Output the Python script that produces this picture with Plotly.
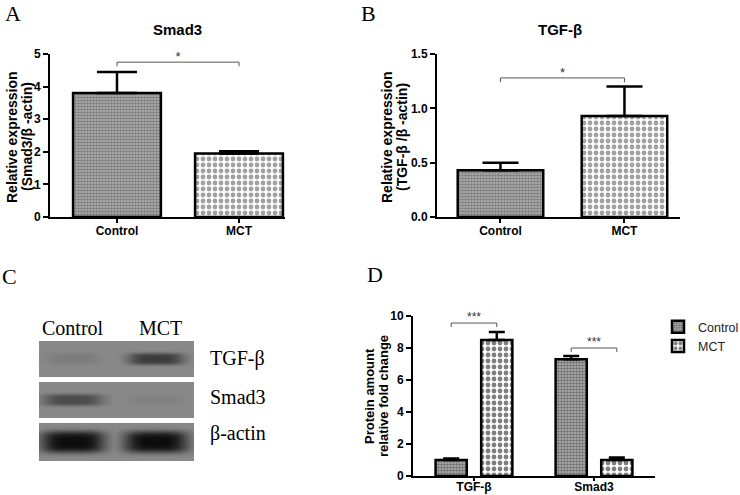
import numpy as np
import plotly.graph_objects as go

W, H = 740, 495

# ---------------- data ----------------
groups = ["Control", "MCT"]

smad3_mean = [3.80, 1.95]
smad3_err = [0.65, 0.07]

tgfb_mean = [0.43, 0.93]
tgfb_err = [0.07, 0.27]

proteins = ["TGF-β", "Smad3"]
prot_control = [1.0, 7.3]
prot_control_err = [0.10, 0.20]
prot_mct = [8.5, 1.0]
prot_mct_err = [0.50, 0.15]

# western blot band intensities (rows: TGF-β, Smad3, β-actin; cols: Control, MCT)
blot_labels = ["TGF-β", "Smad3", "β-actin"]
band_intensity = [[0.10, 0.62],
                  [0.50, 0.06],
                  [1.00, 1.00]]

sig_A = "*"
sig_B = "*"
sig_D = ["***", "***"]

# ---------------- helpers ----------------
def px(x):
    return x / W

def py(y):
    return 1 - y / H

CTRL_COL, CTRL_FG = "#b4b4b4", "#2e2e2e"
MCT_COL, MCT_FG = "#ffffff", "#000000"
CTRL_PAT = dict(shape=".", size=3, solidity=0.55, fgcolor=CTRL_FG, bgcolor=CTRL_COL)
MCT_PAT = dict(shape=".", size=6, solidity=0.5, fgcolor=MCT_FG, bgcolor=MCT_COL)
pair_pat = dict(shape=".", size=[3, 6], solidity=[0.55, 0.5],
                fgcolor=[CTRL_FG, MCT_FG], bgcolor=[CTRL_COL, MCT_COL])

fig = go.Figure()

AX = dict(showline=True, linewidth=2, linecolor="black", ticks="outside", ticklen=5,
          tickwidth=2, tickcolor="black", showgrid=False, zeroline=False, automargin=False,
          tickfont=dict(family="Arial", size=12, color="black", weight="bold"))
XAX = dict(AX)
XAX["ticklen"] = 4
XAX["ticklabelstandoff"] = -2

xi = list(range(len(groups)))

def bracket(xa, ya, x0, x1, level, drop, star, star_dy, size):
    fig.add_trace(go.Scatter(x=[x0, x0, x1, x1], y=[level - drop, level, level, level - drop],
                             mode="lines", line=dict(color="#555", width=1), cliponaxis=False,
                             xaxis=xa, yaxis=ya, showlegend=False, hoverinfo="skip"))
    fig.add_trace(go.Scatter(x=[(x0 + x1) / 2], y=[level + star_dy], mode="text", text=[star],
                             textfont=dict(family="Arial", size=size, color="#333"),
                             cliponaxis=False,
                             xaxis=xa, yaxis=ya, showlegend=False, hoverinfo="skip"))

# ---------------- Panel A ----------------
fig.add_trace(go.Bar(
    x=xi, y=smad3_mean, width=0.72, xaxis="x", yaxis="y", showlegend=False,
    marker=dict(color=[CTRL_COL, MCT_COL], line=dict(color="black", width=2.5), pattern=pair_pat),
    error_y=dict(type="data", array=smad3_err, arrayminus=[0, 0], symmetric=False,
                 color="black", thickness=2.5, width=20)))
bracket("x", "y", xi[0], xi[1], 4.75, 0.13, sig_A, 0.13, 13)

# ---------------- Panel B ----------------
fig.add_trace(go.Bar(
    x=xi, y=tgfb_mean, width=0.69, xaxis="x2", yaxis="y2", showlegend=False,
    marker=dict(color=[CTRL_COL, MCT_COL], line=dict(color="black", width=2.5), pattern=pair_pat),
    error_y=dict(type="data", array=tgfb_err, arrayminus=[0, 0], symmetric=False,
                 color="black", thickness=2.5, width=18)))
bracket("x2", "y2", xi[0], xi[1], 1.28, 0.04, sig_B, 0.04, 13)

# ---------------- Panel D ----------------
pi = list(range(len(proteins)))
fig.add_trace(go.Bar(
    x=pi, y=prot_control, width=0.26, offset=-0.32, name="Control",
    xaxis="x3", yaxis="y3",
    marker=dict(color=CTRL_COL, line=dict(color="black", width=2.5), pattern=CTRL_PAT),
    error_y=dict(type="data", array=prot_control_err, arrayminus=[0, 0], symmetric=False,
                 color="black", thickness=2.5, width=8)))
fig.add_trace(go.Bar(
    x=pi, y=prot_mct, width=0.26, offset=0.06, name="MCT",
    xaxis="x3", yaxis="y3",
    marker=dict(color=MCT_COL, line=dict(color="black", width=2.5), pattern=MCT_PAT),
    error_y=dict(type="data", array=prot_mct_err, arrayminus=[0, 0], symmetric=False,
                 color="black", thickness=2.5, width=8)))
bD = [9.56, 8.0]
for k, p in enumerate(pi):
    bracket("x3", "y3", p - 0.19, p + 0.19, bD[k], 0.25, sig_D[k], 0.3, 12)

# ---------------- Panel C: western blot as heatmap ----------------
BW, BH = 155, 120
blot_rows = [(0, 36), (41, 77), (82, 120)]
lane_cx = [34, 117]
band_hw = [[26, 28], [30, 26], [32, 32]]
band_hh = [6, 6, 11]
xs = np.arange(BW) + 0.5
ys = np.arange(BH) + 0.5
Z = np.full((BH, BW), -1.0)
for r, (y0, y1) in enumerate(blot_rows):
    cy = (y0 + y1) / 2
    for yy in range(y0, y1):
        row = np.zeros(BW)
        for l in range(len(groups)):
            dx = (xs - lane_cx[l]) / band_hw[r][l]
            dy = (ys[yy] - cy) / band_hh[r]
            row = np.maximum(row, band_intensity[r][l] * np.exp(-dx ** 4 - dy ** 4))
        Z[yy, :] = row
fig.add_trace(go.Heatmap(
    z=Z, x=xs, y=ys, xaxis="x4", yaxis="y4", showscale=False, hoverinfo="skip",
    zmin=-1, zmax=1,
    colorscale=[[0, "#ffffff"], [0.499, "#ffffff"], [0.5, "rgb(136,136,136)"],
                [0.75, "rgb(75,75,75)"], [1, "rgb(12,12,12)"]]))

# ---------------- layout ----------------
D_XAX = dict(XAX)
D_XAX["ticklabelstandoff"] = -4
D_XAX["ticklen"] = 3

layout = dict(
    width=W, height=H, margin=dict(l=0, r=0, t=0, b=0, autoexpand=False),
    paper_bgcolor="white", plot_bgcolor="white",
    barmode="overlay",
    xaxis=dict(XAX, domain=[px(50), px(285)], range=[-0.549, 1.377],
               tickvals=xi, ticktext=groups, anchor="y"),
    yaxis=dict(AX, domain=[py(217), py(54)], range=[0, 5], dtick=1, anchor="x"),
    xaxis2=dict(XAX, domain=[px(437), px(680)], range=[-0.512, 1.448],
                tickvals=xi, ticktext=groups, anchor="y2"),
    yaxis2=dict(AX, domain=[py(217), py(54)], range=[0, 1.5],
                tickvals=[0, 0.5, 1.0, 1.5], tickformat=".1f", anchor="x2"),
    xaxis3=dict(D_XAX, domain=[px(413), px(655)], range=[-0.508, 1.508],
                tickvals=pi, ticktext=proteins, anchor="y3"),
    yaxis3=dict(AX, domain=[py(476), py(316)], range=[0, 10], dtick=2, anchor="x3"),
    xaxis4=dict(domain=[px(39), px(194)], range=[0, BW], visible=False, anchor="y4",
                automargin=False),
    yaxis4=dict(domain=[py(461), py(341)], range=[BH, 0], visible=False, anchor="x4",
                automargin=False),
    legend=dict(x=px(658), y=py(312), xanchor="left", yanchor="top",
                font=dict(family="Arial", size=12.5, color="#222"),
                bgcolor="rgba(0,0,0,0)", tracegroupgap=0, itemwidth=30),
)
fig.update_layout(**layout)

ann = []
def A(x, y, text, **kw):
    d = dict(x=px(x), y=py(y), xref="paper", yref="paper", text=text, showarrow=False,
             xanchor="center", yanchor="middle")
    d.update(kw)
    ann.append(d)

SERIF = "Liberation Serif"
# panel letters
A(13, 14, "A", font=dict(family=SERIF, size=22, color="black"))
A(368, 14, "B", font=dict(family=SERIF, size=22, color="black"))
A(9, 276, "C", font=dict(family=SERIF, size=22, color="black"))
A(375, 274, "D", font=dict(family=SERIF, size=22, color="black"))
# titles
A(177, 30, "Smad3", font=dict(family="Arial", size=15, color="black", weight="bold"))
A(560, 30, "TGF-β", font=dict(family="Arial", size=15, color="black", weight="bold"))
# y titles (one annotation per line)
YT = dict(family="Arial", size=14, color="black", weight="bold")
A(12, 137, "Relative expression", textangle=-90, font=YT)
A(27, 137, "(Smad3/β -actin)", textangle=-90, font=YT)
A(387, 137, "Relative expression", textangle=-90, font=YT)
A(402, 137, "(TGF-β /β -actin)", textangle=-90, font=YT)
YD = dict(family="Arial", size=13, color="black", weight="bold")
A(369, 396, "Protein amount", textangle=-90, font=YD)
A(383, 396, "relative fold change", textangle=-90, font=YD)
# blot labels
BL = dict(family=SERIF, size=20, color="black")
A(73, 328, groups[0], font=BL)
A(160, 328, groups[1], font=BL)
for lbl, yy in zip(blot_labels, [358, 397, 433]):
    A(208, yy, lbl, xanchor="left", font=BL)

fig.update_layout(annotations=ann)
fig.write_html("out.html", config={"displayModeBar": False},
               post_script="document.body.style.margin='0';document.body.style.overflow='hidden';")
